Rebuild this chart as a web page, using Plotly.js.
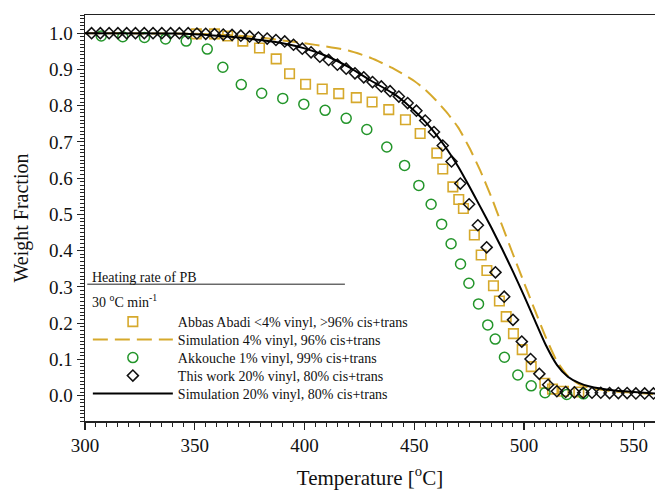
<!DOCTYPE html>
<html>
<head>
<meta charset="utf-8">
<script src="https://cdn.plot.ly/plotly-3.0.1.min.js"></script>
<style>html,body{margin:0;padding:0;background:#fff;}#chart{width:655px;height:492px;}</style>
</head>
<body>
<div id="chart"></div>
<script>
// ---- Data ----
const abbasT = [350.7, 359, 365, 371.9, 379.5, 387.1, 393.2, 400.5, 408.1, 415.6, 423.6, 430.8, 438.4, 446, 452.7, 460.3, 463.0, 467.6, 470.3, 472.4, 477.4, 480.5, 483.1, 486.1, 488.8, 491.9, 495.2, 499.2, 503.3, 509.5, 513, 518, 525];
const abbasW = [0.998, 0.998, 0.992, 0.978, 0.959, 0.929, 0.888, 0.859, 0.846, 0.833, 0.822, 0.810, 0.789, 0.761, 0.723, 0.669, 0.625, 0.576, 0.541, 0.516, 0.443, 0.388, 0.345, 0.303, 0.261, 0.218, 0.171, 0.127, 0.080, 0.034, 0.018, 0.012, 0.010];

const sim4T = [300, 350, 370, 380, 390, 400, 410, 420, 430, 440, 450, 455, 460, 465, 470, 475, 480, 485, 490, 495, 500, 505, 510, 515, 520, 525, 530, 540, 550, 560];
const sim4W = [1.0, 0.998, 0.993, 0.988, 0.980, 0.972, 0.963, 0.952, 0.932, 0.904, 0.868, 0.844, 0.814, 0.780, 0.740, 0.685, 0.622, 0.550, 0.470, 0.390, 0.312, 0.235, 0.160, 0.095, 0.054, 0.032, 0.021, 0.012, 0.008, 0.004];

const akkT = [307.4, 317.2, 327.1, 336.7, 346.1, 355.7, 362.8, 371.2, 380.5, 390.1, 399.7, 409.4, 419.0, 428.4, 437.5, 445.6, 452.1, 457.7, 462.5, 466.8, 471.1, 474.9, 479.3, 483.5, 486.9, 491.1, 497.2, 503.3, 509.6, 519.5, 527.1];
const akkW = [0.992, 0.990, 0.988, 0.984, 0.978, 0.956, 0.906, 0.858, 0.834, 0.820, 0.804, 0.787, 0.765, 0.734, 0.686, 0.635, 0.580, 0.528, 0.473, 0.419, 0.363, 0.310, 0.253, 0.195, 0.156, 0.106, 0.057, 0.027, 0.008, 0.003, 0.005];

const thisT = [303, 307, 311, 315, 319, 323, 327, 331, 335, 339, 343, 347, 351, 355, 359, 363, 367, 371, 375, 379, 383, 387, 391, 395, 399, 403, 407, 411, 415, 419, 423, 427, 431, 435, 439, 443, 447, 451, 455, 459, 463, 467, 471, 475, 479, 483, 487, 491, 495, 499, 503, 507, 511, 515, 519, 523, 527, 531, 535, 539, 543, 547, 551, 555, 559];
const thisW = [1.0, 1.0, 1.0, 1.0, 1.0, 1.0, 1.0, 1.0, 1.0, 1.0, 1.0, 1.0, 0.999, 0.998, 0.997, 0.996, 0.995, 0.993, 0.991, 0.988, 0.985, 0.981, 0.977, 0.968, 0.957, 0.947, 0.935, 0.926, 0.913, 0.902, 0.889, 0.878, 0.865, 0.853, 0.840, 0.825, 0.807, 0.786, 0.759, 0.727, 0.690, 0.646, 0.585, 0.528, 0.470, 0.409, 0.340, 0.273, 0.209, 0.149, 0.101, 0.060, 0.030, 0.012, 0.010, 0.009, 0.008, 0.008, 0.008, 0.007, 0.007, 0.007, 0.006, 0.006, 0.006];

const sim20T = [300, 340, 350, 360, 370, 380, 390, 400, 410, 420, 430, 440, 445, 450, 455, 460, 465, 470, 475, 480, 485, 490, 495, 500, 505, 510, 515, 520, 525, 530, 540, 550, 560];
const sim20W = [1.0, 0.999, 0.997, 0.993, 0.988, 0.981, 0.972, 0.958, 0.937, 0.907, 0.870, 0.835, 0.813, 0.786, 0.756, 0.720, 0.679, 0.632, 0.578, 0.522, 0.465, 0.405, 0.342, 0.276, 0.207, 0.139, 0.085, 0.052, 0.035, 0.025, 0.015, 0.010, 0.006];

const seriesNames = [
  'Abbas Abadi &lt;4% vinyl, &gt;96% cis+trans',
  'Simulation 4% vinyl, 96% cis+trans',
  'Akkouche 1% vinyl, 99% cis+trans',
  'This work 20% vinyl, 80% cis+trans',
  'Simulation 20% vinyl, 80% cis+trans'
];
const xTicks = [300, 350, 400, 450, 500, 550];
const yTicks = [0.0, 0.1, 0.2, 0.3, 0.4, 0.5, 0.6, 0.7, 0.8, 0.9, 1.0];

const GOLD = '#d6a92c';
const GREEN = '#23952a';
const FONT = '"Liberation Serif", "Times New Roman", serif';

const traces = [
  {x: abbasT, y: abbasW, name: seriesNames[0], mode: 'markers', type: 'scatter', legend: 'legend',
   marker: {symbol: 'square-open', size: 9.5, color: GOLD, line: {width: 1.6, color: GOLD}}},
  {x: sim4T, y: sim4W, name: seriesNames[1], mode: 'lines', type: 'scatter', legend: 'legend2',
   line: {color: GOLD, width: 2, dash: '15px,7px', shape: 'spline', smoothing: 0.6}},
  {x: akkT, y: akkW, name: seriesNames[2], mode: 'markers', type: 'scatter', legend: 'legend3',
   marker: {symbol: 'circle-open', size: 10, color: GREEN, line: {width: 1.5, color: GREEN}}},
  {x: thisT, y: thisW, name: seriesNames[3], mode: 'markers', type: 'scatter', legend: 'legend4',
   marker: {symbol: 'diamond-open', size: 8.5, color: '#111', line: {width: 1.5, color: '#111'}}},
  {x: sim20T, y: sim20W, name: seriesNames[4], mode: 'lines', type: 'scatter', legend: 'legend5',
   line: {color: '#000', width: 2, shape: 'spline', smoothing: 0.6}}
];

function leg(yc) {
  return {
    x: 0.005, y: yc, xanchor: 'left', yanchor: 'middle',
    bgcolor: 'rgba(0,0,0,0)', borderwidth: 0,
    font: {family: FONT, size: 14, color: '#111'},
    itemwidth: 80
  };
}

const layout = {
  width: 655, height: 492,
  margin: {l: 85, r: 0, t: 15, b: 71, pad: 0},
  paper_bgcolor: '#fff', plot_bgcolor: '#fff',
  font: {family: FONT, size: 18, color: '#111'},
  showlegend: true,
  legend: leg(0.2438),
  legend2: leg(0.1995),
  legend3: leg(0.1552),
  legend4: leg(0.1108),
  legend5: leg(0.0665),
  xaxis: {
    range: [300, 559.7], tickvals: xTicks, ticktext: xTicks.map(String),
    showgrid: false, zeroline: false, showline: true, linecolor: '#222', linewidth: 1.5,
    mirror: true, ticks: 'outside', ticklen: 7, tickwidth: 1.2, tickcolor: '#222',
    minor: {dtick: 5, ticks: 'outside', ticklen: 4, tickwidth: 1, tickcolor: '#222', showgrid: false},
    tickfont: {family: FONT, size: 19, color: '#111'},
    title: {text: 'Temperature [<sup>o</sup>C]', font: {family: FONT, size: 21, color: '#111'}, standoff: 15},
    automargin: false
  },
  yaxis: {
    range: [-0.07, 1.05], tickvals: yTicks, ticktext: yTicks.map(v => v.toFixed(1)),
    showgrid: false, zeroline: false, showline: true, linecolor: '#222', linewidth: 1.5,
    mirror: false, ticks: 'outside', ticklen: 7, tickwidth: 1.2, tickcolor: '#222',
    minor: {dtick: 0.01, ticks: 'outside', ticklen: 3.5, tickwidth: 1, tickcolor: '#222', showgrid: false},
    tickfont: {family: FONT, size: 19, color: '#111'},
    title: {text: 'Weight Fraction', font: {family: FONT, size: 20, color: '#111'}, standoff: 15},
    automargin: false
  },
  annotations: [
    {xref: 'paper', yref: 'paper', x: 0.008, y: 0.354, xanchor: 'left', yanchor: 'middle',
     text: 'Heating rate of PB', showarrow: false, font: {family: FONT, size: 14, color: '#111'}},
    {xref: 'paper', yref: 'paper', x: 0.008, y: 0.296, xanchor: 'left', yanchor: 'middle',
     text: '30 <sup>o</sup>C min<sup>-1</sup>', showarrow: false, font: {family: FONT, size: 14, color: '#111'}}
  ],
  shapes: [
    {type: 'line', xref: 'paper', yref: 'paper', x0: 0.004, x1: 0.456, y0: 0.337, y1: 0.337,
     line: {color: '#222', width: 1}}
  ]
};

Plotly.newPlot('chart', traces, layout, {displayModeBar: false, staticPlot: true});
</script>
</body>
</html>
